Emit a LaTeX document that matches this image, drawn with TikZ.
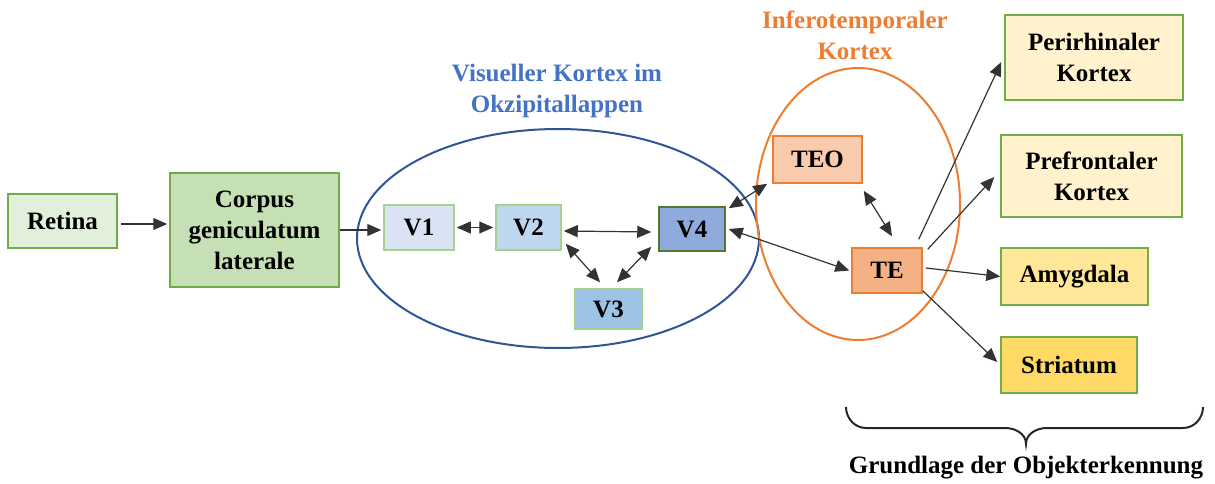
\documentclass[tikz,border=0pt]{standalone}
\usepackage{fontspec}
\setmainfont{Liberation Serif}
\usetikzlibrary{arrows.meta}
\definecolor{gborder}{HTML}{70AD47}
\definecolor{lgborder}{HTML}{A9D18E}
\definecolor{oborder}{HTML}{ED7D31}
\definecolor{vblue}{HTML}{2F5597}
\definecolor{tblue}{HTML}{4472C4}
\definecolor{cretina}{HTML}{E2EFDA}
\definecolor{ccgl}{HTML}{C5E0B4}
\definecolor{cvone}{HTML}{DAE3F3}
\definecolor{cvtwo}{HTML}{BDD7EE}
\definecolor{cvthree}{HTML}{9DC3E6}
\definecolor{cvfour}{HTML}{8FAADC}
\definecolor{cteo}{HTML}{F8CBAD}
\definecolor{cte}{HTML}{F4B183}
\definecolor{cpale}{HTML}{FFF2CC}
\definecolor{camyg}{HTML}{FFE699}
\definecolor{cstri}{HTML}{FFD966}
\begin{document}
\begin{tikzpicture}[x=1pt,y=-1pt,
  font=\fontsize{25}{31}\selectfont\bfseries,
  box/.style={draw=gborder,line width=1.5pt,align=center,inner sep=0pt},
  vbox/.style={box,draw=lgborder},
  obox/.style={box,draw=oborder},
  arr/.style={-{Triangle[length=14pt,width=12pt]},line width=1.2pt,black!80},
  darr/.style={{Triangle[length=14pt,width=12pt]}-{Triangle[length=14pt,width=12pt]},line width=1.2pt,black!80}]
 \useasboundingbox (0,0) rectangle (1215,484);
 % ellipses and titles
 \draw[vblue,line width=2pt] (558,238.5) ellipse [x radius=201, y radius=109.5];
 \draw[oborder,line width=2pt] (858,204) ellipse [x radius=102, y radius=136];
 \node[text=tblue,align=center] (vtitle) at (557,91) {Visueller Kortex im\\Okzipitallappen};
 \node[text=oborder,align=center] (ittitle) at (855,35) {Inferotemporaler\\Kortex};
 % boxes
 \node[box,fill=cretina,minimum width=109,minimum height=54] (retina) at (62.5,221) {Retina};
 \node[box,fill=ccgl,minimum width=169,minimum height=114] (cgl) at (254.5,230) {Corpus\\geniculatum\\laterale};
 \node[vbox,fill=cvone,minimum width=70,minimum height=45] (v1) at (419,227.5) {V1};
 \node[vbox,fill=cvtwo,minimum width=65,minimum height=45] (v2) at (528.5,227.5) {V2};
 \node[vbox,fill=cvthree,minimum width=67,minimum height=40] (v3) at (608.5,309) {V3};
 \node[box,draw=gborder!70!black,fill=cvfour,minimum width=66,minimum height=44] (v4) at (692,229) {V4};
 \node[obox,fill=cteo,minimum width=89,minimum height=47] (teo) at (817.5,159.5) {TEO};
 \node[obox,fill=cte,minimum width=70,minimum height=45] (te) at (887,270.5) {TE};
 \node[box,fill=cpale,minimum width=178,minimum height=85] (peri) at (1094,57.5) {Perirhinaler\\Kortex};
 \node[box,fill=cpale,minimum width=181,minimum height=82] (pref) at (1091.5,176) {Prefrontaler\\Kortex};
 \node[box,fill=camyg,minimum width=147,minimum height=57] (amyg) at (1074.5,276.5) {Amygdala};
 \node[box,fill=cstri,minimum width=136,minimum height=56] (stri) at (1069,365) {Striatum};
 % connections
 \draw[arr] ([xshift=3,yshift=-3]retina.east) -- ([xshift=-2,yshift=6]cgl.west);
 \draw[arr] (cgl.east) -- ([xshift=-2,yshift=-2.5]v1.west);
 \draw[darr] ([xshift=2]v1.east) -- ([xshift=-2]v2.west);
 \draw[darr] ([xshift=2,yshift=-3.5]v2.east) -- ([xshift=-7,yshift=-3]v4.west);
 \draw[darr] ([xshift=4,yshift=7]v2.south east) -- ([xshift=-8.5,yshift=6]v3.north);
 \draw[darr] ([xshift=8.5,yshift=6]v3.north) -- ([xshift=-7,yshift=5]v4.south west);
 \draw[darr] ([xshift=3,yshift=-2]v4.north east) -- ([xshift=-5]teo.south west);
 \draw[darr] ([xshift=-2]te.west) -- ([xshift=3]v4.east);
 \draw[darr] ([xshift=1,yshift=-7]teo.south east) -- ([xshift=5,yshift=11]te.north);
 \draw[arr] ([xshift=-4,yshift=8]te.north east) -- ([xshift=-3,yshift=-4.5]peri.west);
 \draw[arr] ([xshift=5,yshift=-2]te.north east) -- ([xshift=-6,yshift=-1]pref.west);
 \draw[arr] ([xshift=3,yshift=2.5]te.east) -- (amyg.west);
 \draw[arr] ([yshift=3]te.south east) -- ([xshift=-3,yshift=3]stri.west);
 % brace
 \draw[line width=2pt,black!85] (846,407) to[out=-90,in=180] (866,428) -- (1005,428)
   to[out=0,in=90] (1026,444) to[out=90,in=180] (1047,428) -- (1183,428) to[out=0,in=-90] (1203,407);
 \node (basis) at (1026,468) {Grundlage der Objekterkennung};
\end{tikzpicture}
\end{document}
